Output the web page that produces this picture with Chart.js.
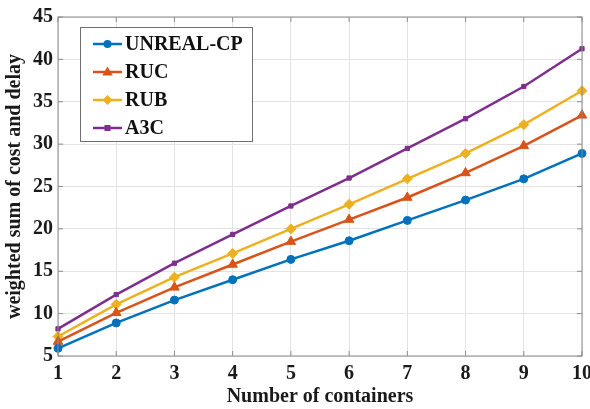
<!DOCTYPE html>
<html>
<head>
<meta charset="utf-8">
<script src="https://cdn.jsdelivr.net/npm/chart.js@4"></script>
<style>
html,body{margin:0;padding:0;background:#fff;}
#wrap{width:590px;height:409px;}
</style>
</head>
<body>
<div id="wrap"><canvas id="c" width="590" height="409"></canvas></div>
<script>
// data
const containers=["1","2","3","4","5","6","7","8","9","10"];
const seriesNames=["UNREAL-CP","RUC","RUB","A3C"];
const unrealCP=[5.9,8.9,11.6,14.0,16.4,18.6,21.0,23.4,25.9,28.9];
const ruc=[6.7,10.1,13.1,15.8,18.5,21.1,23.7,26.6,29.8,33.4];
const rub=[7.3,11.1,14.3,17.1,20.0,22.9,25.9,28.9,32.3,36.3];
const a3c=[8.2,12.25,15.95,19.35,22.7,26.0,29.5,33.0,36.8,41.25];
const yTicks=[5,10,15,20,25,30,35,40,45];

const colors=["#0072BD","#D95319","#EDB120","#7E2F8E"];
const styles=["circle","triangle","rectRot","rect"];
const radii=[4,5.5,5,3];
const FONT="'Liberation Serif', 'Times New Roman', serif";
const boxColor="#8c8c8c";

function drawMarker(ctx,style,x,y,r,color){
ctx.save();
ctx.fillStyle=color;
ctx.strokeStyle=color;
ctx.beginPath();
if(style==="circle"){
ctx.arc(x,y,r,0,Math.PI*2);
}else if(style==="triangle"){
ctx.moveTo(x,y-r);
ctx.lineTo(x+r*0.95,y+r*0.65);
ctx.lineTo(x-r*0.95,y+r*0.65);
ctx.closePath();
}else if(style==="rectRot"){
ctx.moveTo(x,y-r);
ctx.lineTo(x+r,y);
ctx.lineTo(x,y+r);
ctx.lineTo(x-r,y);
ctx.closePath();
}else{
ctx.rect(x-r,y-r,r*2,r*2);
}
ctx.fill();
ctx.restore();
}

const frame={
id:"frame",
afterDraw(chart){
const ctx=chart.ctx;
const a=chart.chartArea;
const xs=chart.scales.x;
const ys=chart.scales.y;
ctx.save();
ctx.strokeStyle=boxColor;
ctx.lineWidth=1;
ctx.strokeRect(a.left,a.top,a.right-a.left,a.bottom-a.top);
// inward ticks on all sides
ctx.beginPath();
containers.forEach((c,i)=>{
const px=xs.getPixelForValue(i);
ctx.moveTo(px,a.bottom);ctx.lineTo(px,a.bottom-5);
ctx.moveTo(px,a.top);ctx.lineTo(px,a.top+5);
});
yTicks.forEach(v=>{
const py=ys.getPixelForValue(v);
ctx.moveTo(a.left,py);ctx.lineTo(a.left+5,py);
ctx.moveTo(a.right,py);ctx.lineTo(a.right-5,py);
});
ctx.stroke();

// legend box inside the plot
const bx=80.5,by=27.5,bw=172,bh=114;
ctx.fillStyle="#fff";
ctx.fillRect(bx,by,bw,bh);
ctx.strokeStyle="#707070";
ctx.strokeRect(bx,by,bw,bh);
ctx.font="bold 20px "+FONT;
ctx.textBaseline="middle";
ctx.textAlign="left";
chart.data.datasets.forEach((ds,i)=>{
const ry=44+i*28;
ctx.strokeStyle=ds.borderColor;
ctx.lineWidth=2.5;
ctx.beginPath();
ctx.moveTo(93,ry);ctx.lineTo(122,ry);
ctx.stroke();
drawMarker(ctx,styles[i],107.5,ry,radii[i],ds.borderColor);
ctx.fillStyle="#111";
ctx.fillText(ds.label,125,ry+1);
});
ctx.restore();
}
};

new Chart(
document.getElementById("c"),
{
type:"line",
data:{
labels:containers,
datasets:[unrealCP,ruc,rub,a3c].map((vals,i)=>({
label:seriesNames[i],
data:vals,
borderColor:colors[i],
backgroundColor:colors[i],
borderWidth:2.5,
pointStyle:styles[i],
pointRadius:radii[i],
pointBorderWidth:1,
pointBackgroundColor:colors[i],
pointBorderColor:colors[i],
tension:0,
clip:false
}))
},
options:{
responsive:false,
animation:false,
layout:{padding:{top:14,right:8,bottom:0,left:0}},
plugins:{
legend:{display:false},
tooltip:{enabled:false}
},
scales:{
x:{
offset:false,
grid:{color:"#e3e3e3",drawTicks:false},
border:{display:false},
ticks:{
color:"#1a1a1a",
padding:6,
font:{family:FONT,size:20,weight:"bold"}
},
title:{
display:true,
text:"Number of containers",
color:"#1a1a1a",
padding:{top:0,bottom:0},
font:{family:FONT,size:20,weight:"bold"}
},
afterFit(s){s.height=53;s.paddingLeft=0;s.paddingRight=0;}
},
y:{
min:5,
max:45,
grid:{color:"#e3e3e3",drawTicks:false},
border:{display:false},
afterBuildTicks(s){s.ticks=yTicks.map(v=>({value:v}));},
ticks:{
color:"#1a1a1a",
padding:5,
font:{family:FONT,size:20,weight:"bold"}
},
title:{
display:true,
text:"weighted sum of cost and delay",
color:"#1a1a1a",
padding:{top:3,bottom:0},
font:{family:FONT,size:20,weight:"bold"}
},
afterFit(s){s.width=58;}
}
}
},
plugins:[frame]
}
);
</script>
</body>
</html>
